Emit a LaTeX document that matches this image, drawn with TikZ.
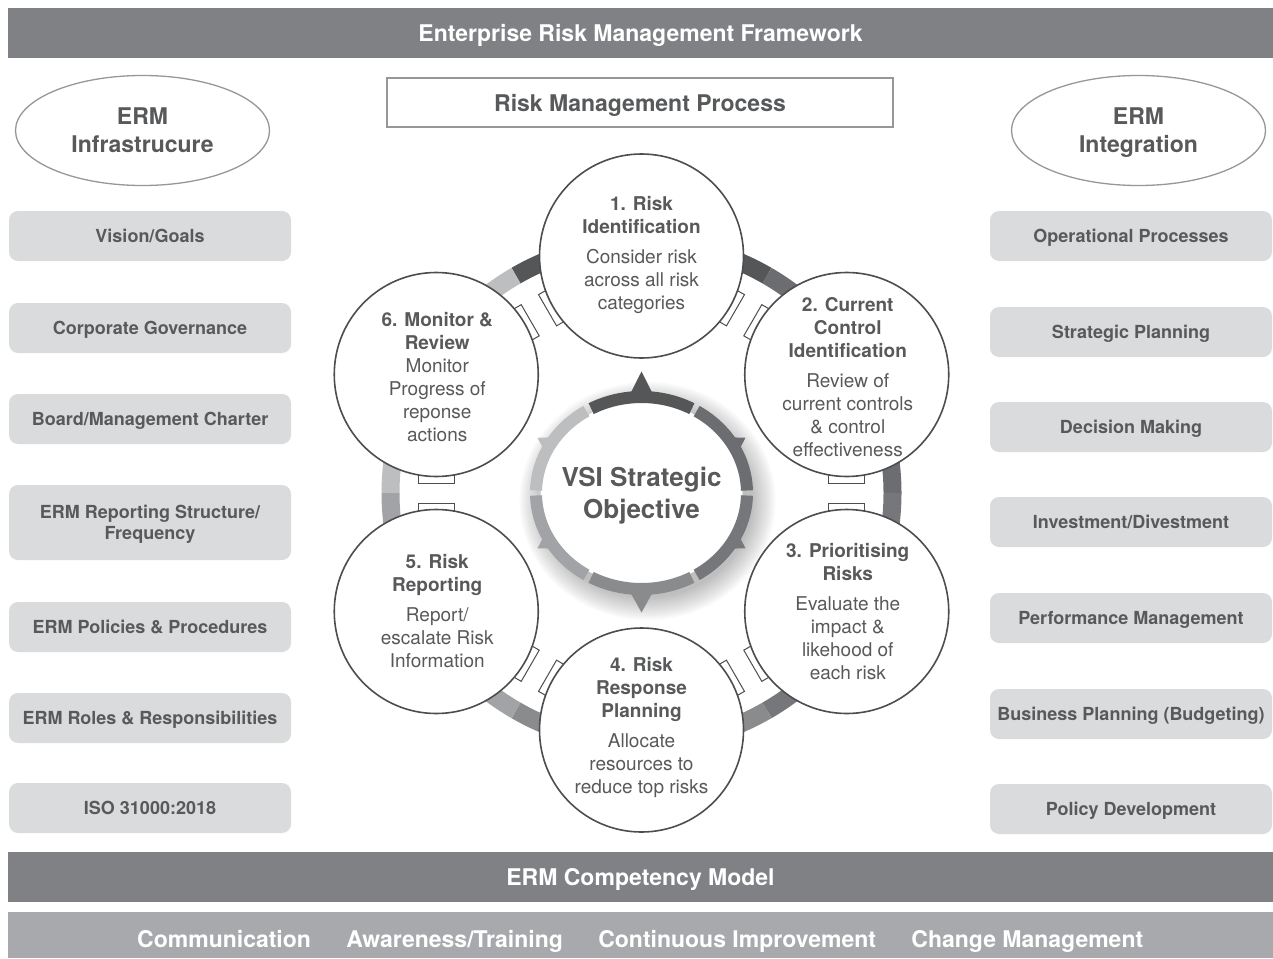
\documentclass[tikz,border=0pt]{standalone}
\usepackage{fontspec}
\setmainfont{TeX Gyre Heros}
\usetikzlibrary{calc,positioning,shapes.geometric}

\definecolor{barGray}{RGB}{128,129,132}
\definecolor{barLight}{RGB}{167,169,172}
\definecolor{boxGray}{RGB}{218,219,220}
\definecolor{inkGray}{RGB}{88,89,91}
\definecolor{rimGray}{RGB}{77,77,79}
\definecolor{lineGray}{RGB}{150,151,153}
\definecolor{segA}{RGB}{85,86,88}
\definecolor{segB}{RGB}{108,109,112}
\definecolor{segC}{RGB}{118,119,122}
\definecolor{segD}{RGB}{138,139,141}
\definecolor{segE}{RGB}{162,163,166}
\definecolor{segF}{RGB}{188,190,192}

\begin{document}
\begin{tikzpicture}[
    x=1pt, y=1pt,
    every node/.style={text=inkGray},
    band/.style={rectangle, fill=barGray, minimum width=1265pt, minimum height=50pt,
        inner sep=0pt, text depth=0pt, text=white, font=\bfseries\fontsize{23}{27}\selectfont},
    proc/.style={rectangle, draw=lineGray, line width=1.5pt, fill=white, text depth=0pt,
        minimum width=506pt, minimum height=49pt, font=\bfseries\fontsize{23}{27}\selectfont},
    pillar/.style={ellipse, draw=lineGray, line width=1.3pt, fill=white,
        minimum width=254pt, minimum height=110pt, inner sep=0pt, align=center,
        text depth=0pt, font=\bfseries\fontsize{23}{28}\selectfont},
    item/.style={rectangle, rounded corners=9pt, fill=boxGray, minimum width=282pt,
        minimum height=50pt, inner sep=0pt, align=center, text depth=0pt,
        font=\bfseries\fontsize{18}{21}\selectfont},
    stage/.style={circle, draw=rimGray, line width=1.6pt, fill=white,
        minimum size=204pt, inner sep=0pt},
    stagetext/.style={align=center, font=\fontsize{19}{23}\selectfont},
    tabbox/.style={rectangle, draw=rimGray, line width=1pt, fill=white,
        minimum width=13pt, minimum height=36pt, inner sep=0pt},
    word/.style={text=white, inner sep=0pt, font=\bfseries\fontsize{23}{27}\selectfont},
    core/.style={align=center, font=\bfseries\fontsize{26}{32}\selectfont},
]
    \useasboundingbox (0,0) rectangle (1273,-958);

    % Header
    \node[band] (frame) at (640.5,-33) {Enterprise Risk Management Framework};
    \node[proc] (rmp) at (640,-102.5) {Risk Management Process};

    % Pillars
    \node[pillar] (infra) at (142.5,-130.5) {ERM\\Infrastrucure};
    \node[pillar] (integ) at (1138.5,-130.5) {ERM\\Integration};

    % Left column
    \node[item] (inf1) at (150,-236) {Vision/Goals};
    \node[item] (inf2) at (150,-328) {Corporate Governance};
    \node[item] (inf3) at (150,-419) {Board/Management Charter};
    \node[item, minimum height=75pt] (inf4) at (150,-522.5) {ERM Reporting Structure/\\Frequency};
    \node[item] (inf5) at (150,-627) {ERM Policies \& Procedures};
    \node[item] (inf6) at (150,-718) {ERM Roles \& Responsibilities};
    \node[item] (inf7) at (150,-808) {ISO 31000:2018};

    % Right column
    \node[item] (int1) at (1131,-236) {Operational Processes};
    \node[item] (int2) at (1131,-332) {Strategic Planning};
    \node[item] (int3) at (1131,-427) {Decision Making};
    \node[item] (int4) at (1131,-522) {Investment/Divestment};
    \node[item] (int5) at (1131,-618) {Performance Management};
    \node[item] (int6) at (1131,-714) {Business Planning (Budgeting)};
    \node[item] (int7) at (1131,-809) {Policy Development};

    % Process ring
    \coordinate (ctr) at (641.5,-493);
    \foreach \a/\col in {60/segA, 0/segB, -60/segC, -120/segD, 180/segE, 120/segF}
        \draw[line width=18pt, \col] ($(ctr)+(\a:251)$) arc[start angle=\a, delta angle=60, radius=251];

    % Tabs between the stages
    \foreach \a in {90,30,-30,-90,-150,150} {
        \node[tabbox, rotate=\a-120] (tabn\a) at ($(ctr)+(\a:237)+(\a-120:102)$) {};
        \node[tabbox, rotate=\a+120] (tabp\a) at ($(ctr)+(\a:237)+(\a+120:102)$) {};
    }

    % Stages
    \node[stage] (s1) at ($(ctr)+(90:237)$) {};
    \node[stage] (s2) at ($(ctr)+(30:237)$) {};
    \node[stage] (s3) at ($(ctr)+(-30:237)$) {};
    \node[stage] (s4) at ($(ctr)+(-90:237)$) {};
    \node[stage] (s5) at ($(ctr)+(-150:237)$) {};
    \node[stage] (s6) at ($(ctr)+(150:237)$) {};

    \node[stagetext] (s1t) at ($(s1)+(0,1)$)
        {\textbf{1. Risk}\\\textbf{Identification}\\[7pt]Consider risk\\across all risk\\categories};
    \node[stagetext] (s2t) at ($(s2)+(1,-3)$)
        {\textbf{2. Current}\\\textbf{Control}\\\textbf{Identification}\\[7pt]Review of\\current controls\\\& control\\effectiveness};
    \node[stagetext] (s3t) at ($(s3)+(1,0)$)
        {\textbf{3. Prioritising}\\\textbf{Risks}\\[7pt]Evaluate the\\impact \&\\likehood of\\each risk};
    \node[stagetext] (s4t) at ($(s4)+(0,3)$)
        {\textbf{4. Risk}\\\textbf{Response}\\\textbf{Planning}\\[7pt]Allocate\\resources to\\reduce top risks};
    \node[stagetext] (s5t) at ($(s5)+(1,0)$)
        {\textbf{5. Risk}\\\textbf{Reporting}\\[7pt]Report/\\escalate Risk\\Information};
    \node[stagetext] (s6t) at ($(s6)+(1,-3)$)
        {\textbf{6. Monitor \&}\\\textbf{Review}\\Monitor\\Progress of\\reponse\\actions};

    % Strategic objective
    \foreach \i in {1,...,12}
        \fill[black, opacity=0.025] ($(ctr)+(6,-8)$) ellipse[x radius=104+2*\i, y radius=95+2*\i];
    \fill[white] (ctr) ellipse[x radius=101, y radius=92];
    \foreach \a/\col in {60/segA, 0/segB, -60/segC, -120/segD, 180/segE, 120/segF}
        \draw[line width=12pt, \col] ($(ctr)+(\a+1.5:105.5 and 96)$)
            arc[start angle=\a+1.5, end angle=\a+58.5, x radius=105.5, y radius=96];
    \foreach \a/\col/\h/\w in {90/segA/20/6, 30/segB/9/4, -30/segC/9/4,
        -90/segD/18/6, -150/segE/9/4, 150/segF/9/4}
        \fill[\col] ($(ctr)+(\a-\w:109 and 99.5)$) -- ($(ctr)+(\a:{111+\h} and {101.5+\h})$)
            -- ($(ctr)+(\a+\w:109 and 99.5)$) -- cycle;
    \node[core] (vsi) at ($(ctr)+(0,-3)$) {VSI Strategic\\Objective};

    % Footer
    \node[band] (comp) at (640.5,-877) {ERM Competency Model};
    \node[band, fill=barLight, minimum height=46pt] (skills) at (640.5,-935) {};
    \node[word, anchor=base west] (w1) at (137,-947) {Communication};
    \node[word, base right=35pt of w1] (w2) {Awareness/Training};
    \node[word, base right=35pt of w2] (w3) {Continuous Improvement};
    \node[word, base right=35pt of w3] (w4) {Change Management};
\end{tikzpicture}
\end{document}
